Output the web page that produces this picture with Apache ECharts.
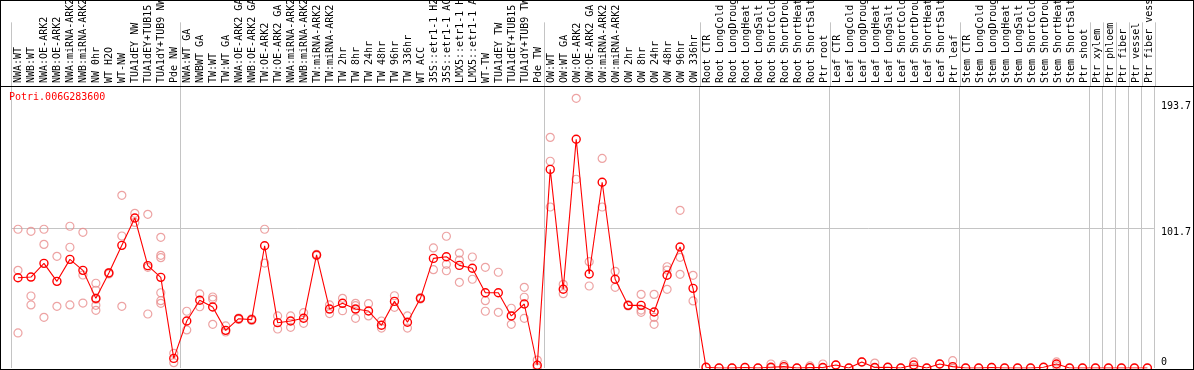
<!DOCTYPE html>
<html>
<head>
<meta charset="utf-8">
<script src="https://cdn.jsdelivr.net/npm/echarts@6/dist/echarts.min.js"></script>
<style>
  html, body { margin: 0; padding: 0; background: #fff; }
  #wrap { position: relative; width: 1194px; height: 370px; overflow: hidden; }
  #chart { position: absolute; left: 0; top: 0; width: 1194px; height: 370px; }
  #frame { position: absolute; left: 0; top: 0; width: 1194px; height: 370px; box-sizing: border-box; border: 1px solid #000; pointer-events: none; }
  #sep { position: absolute; left: 0; top: 86px; width: 1194px; height: 1px; background: #000; pointer-events: none; }
</style>
</head>
<body>
<div id="wrap"><div id="chart"></div><div id="frame"></div><div id="sep"></div></div>
<script>
const title = 'Potri.006G283600';

const categories = [
  'NWA:WT','NWB:WT','NWA:OE-ARK2','NWB:OE-ARK2','NWA:miRNA-ARK2','NWB:miRNA-ARK2','NW 0hr','WT H2O','WT-NW','TUA1dEY NW','TUA1dEY+TUB15','TUA1dY+TUB9 NW','Pde NW',
  'NWA:WT GA','NWBWT GA','TW:WT','TW:WT GA','NWA:OE-ARK2 GA','NWB:OE-ARK2 GA','TW:OE-ARK2','TW:OE-ARK2 GA','NWA:miRNA-ARK2','NWB:miRNA-ARK2','TW:miRNA-ARK2','TW:miRNA-ARK2','TW 2hr','TW 8hr','TW 24hr','TW 48hr','TW 96hr','TW 336hr','WT ACC','35S::etr1-1 H2O','35S::etr1-1 ACC','LMX5::etr1-1 H2O','LMX5::etr1-1 ACC','WT-TW','TUA1dEY TW','TUA1dEY+TUB15','TUA1dY+TUB9 TW','Pde TW',
  'OW:WT','OW:WT GA','OW:OE-ARK2','OW:OE-ARK2 GA','OW:miRNA-ARK2','OW:miRNA-ARK2','OW 2hr','OW 8hr','OW 24hr','OW 48hr','OW 96hr','OW 336hr',
  'Root CTR','Root LongCold','Root LongDrought','Root LongHeat','Root LongSalt','Root ShortCold','Root ShortDrought','Root ShortHeat','Root ShortSalt','Ptr root',
  'Leaf CTR','Leaf LongCold','Leaf LongDrought','Leaf LongHeat','Leaf LongSalt','Leaf ShortCold','Leaf ShortDrought','Leaf ShortHeat','Leaf ShortSalt','Ptr leaf',
  'Stem CTR','Stem LongCold','Stem LongDrought','Stem LongHeat','Stem LongSalt','Stem ShortCold','Stem ShortDrought','Stem ShortHeat','Stem ShortSalt','Ptr shoot',
  'Ptr xylem','Ptr phloem','Ptr fiber','Ptr vessel','Ptr fiber vessel'
];

// index of the first category of each group (a separator is drawn before it)
const groupStarts = [0, 13, 41, 53, 63, 73, 83, 84, 85, 86, 87];

const means = [
  65.7, 66.2, 76.2, 63.1, 79.1, 71.1, 50.7, 69.2, 89.3, 109.2, 74.5, 66.0, 7.0,
  34.2, 49.3, 44.4, 27.4, 35.9, 35.2, 89.0, 33.0, 34.2, 36.2, 82.3, 42.9, 47.1, 42.9, 41.5, 31.1, 48.5, 33.3, 50.7, 79.8, 81.0, 74.7, 72.6, 54.8, 54.8, 37.9, 46.6, 2.0,
  144.6, 57.3, 166.5, 68.4, 135.2, 64.6, 45.6, 45.6, 40.8, 67.5, 88.1, 58.0,
  0.5, 0, 0, 0.4, 0, 0.5, 1.0, 0, 0.3, 0.4,
  2.2, 0, 4.4, 0.4, 0.5, 0, 2.2, 0, 2.9, 1.0,
  0, 0, 0.4, 0, 0, 0, 0.5, 2.9, 0, 0,
  0, 0, 0, 0, 0
];

const replicates = [
  [101.0, 71.1, 25.5], [99.5, 52.4, 45.9], [101.0, 90.0, 36.9], [81.3, 44.9], [103.2, 87.9, 45.9], [98.8, 67.7, 47.3],
  [61.7, 56.6, 50.0, 45.6, 42.0], [69.5, 68.5], [125.7, 96.1, 44.9], [112.6, 106.0], [111.9, 73.3, 39.3],
  [95.1, 82.0, 80.3, 54.8, 49.0, 47.1], [10.7, 3.9],
  [41.3, 27.7], [53.9, 44.6], [51.7, 50.0, 31.8], [30.6, 26.2], [36.4, 35.4], [35.8, 34.6], [101.0, 76.4], [37.9, 28.4],
  [37.9, 29.6], [40.3, 32.5], [82.8, 81.8], [45.9, 39.6], [50.7, 41.7], [47.1, 36.2, 45.4], [46.8, 37.9], [34.2, 29.1],
  [52.6, 44.2], [37.9, 29.1], [51.2, 50.2], [87.4, 71.6], [95.9, 75.5, 70.8], [83.7, 78.6, 62.4], [80.8, 64.6],
  [73.3, 49.0, 41.3], [69.7, 40.5], [43.5, 31.8], [58.7, 51.5, 36.2], [5.8, 0.2],
  [167.9, 150.5, 117.2], [60.9, 54.1], [196.3, 137.4], [77.4, 59.7], [152.6, 117.2], [70.4, 58.7], [46.0, 45.2],
  [53.6, 42.2, 40.5], [53.6, 36.9, 31.8], [73.7, 71.3, 57.3], [114.8, 80.6, 68.2], [67.5, 48.8],
  [0.5], [0], [0], [0.4], [0], [2.9, 0], [2.4, 0], [0], [1.5, 0], [2.9, 0],
  [2.2], [0], [4.4], [3.6, 0], [0.5], [0], [4.4, 0.5], [0], [2.9], [5.3, 0],
  [0], [0], [0.4], [0], [0], [0], [0.5], [4.4, 1.5], [0], [0],
  [0], [0], [0], [0], [0]
];

const yTickValues = [0, 101.7, 193.7];
const yMax = 205.3;

const mono = 'DejaVu Sans Mono';
const replicatePoints = [];
replicates.forEach((arr, i) => arr.forEach(v => replicatePoints.push([i, v])));

const sepInterval = (index) => groupStarts.indexOf(index) >= 0;
const splitLineStyle = { show: true, interval: sepInterval, lineStyle: { color: '#c4c4c4', width: 1 } };

const chart = echarts.init(document.getElementById('chart'), null, { renderer: 'canvas' });
chart.setOption({
  animation: false,
  backgroundColor: '#fff',
  title: {
    text: title, left: 9, top: 92, padding: 0,
    textStyle: { color: '#ff0000', fontFamily: mono, fontSize: 10, fontWeight: 'normal' }
  },
  grid: [
    { left: 11.5, right: 38.5, top: 0, height: 86 },
    { left: 11.5, right: 38.5, top: 86, bottom: 2 }
  ],
  xAxis: [
    {
      type: 'category', gridIndex: 0, data: categories, position: 'bottom', boundaryGap: true,
      axisLine: { show: false }, axisTick: { show: false },
      axisLabel: { show: true, inside: true, rotate: 90, interval: 0, margin: 3, color: '#000', fontFamily: mono, fontSize: 10 },
      splitLine: splitLineStyle
    },
    {
      type: 'category', gridIndex: 1, data: categories, boundaryGap: true,
      axisLine: { show: false }, axisTick: { show: false }, axisLabel: { show: false },
      splitLine: splitLineStyle
    }
  ],
  yAxis: [
    { type: 'value', gridIndex: 0, show: false, min: 0, max: 1 },
    {
      type: 'value', gridIndex: 1, position: 'right', min: 0, max: yMax,
      axisLine: { show: false }, axisTick: { show: false }, splitLine: { show: false },
      axisLabel: {
        show: true, customValues: yTickValues, margin: 7, color: '#000', fontFamily: mono, fontSize: 10,
        formatter: v => v === 0 ? '{z|0}' : '{n|' + v + '}',
        rich: {
          z: { fontFamily: mono, fontSize: 10, color: '#000', padding: [0, 0, 12, 0] },
          n: { fontFamily: mono, fontSize: 10, color: '#000', padding: [9, 0, 0, 0] }
        }
      }
    }
  ],
  series: [
    {
      name: 'replicates', type: 'scatter', xAxisIndex: 1, yAxisIndex: 1,
      data: replicatePoints, symbol: 'circle', symbolSize: 8, silent: true, z: 2,
      itemStyle: { color: 'rgba(0,0,0,0)', borderColor: '#e88c8c', borderWidth: 1.2 }
    },
    {
      name: 'mean', type: 'line', xAxisIndex: 1, yAxisIndex: 1,
      data: means, symbol: 'circle', symbolSize: 8, showAllSymbol: true, silent: true, z: 3,
      lineStyle: { color: '#ff0000', width: 1.1 },
      itemStyle: { color: 'rgba(0,0,0,0)', borderColor: '#ff0000', borderWidth: 1.4 },
      markLine: {
        silent: true, symbol: 'none', label: { show: false }, z: 1,
        lineStyle: { color: '#c4c4c4', type: 'solid', width: 1 },
        data: [{ yAxis: yTickValues[1] }]
      }
    }
  ]
});
</script>
</body>
</html>
